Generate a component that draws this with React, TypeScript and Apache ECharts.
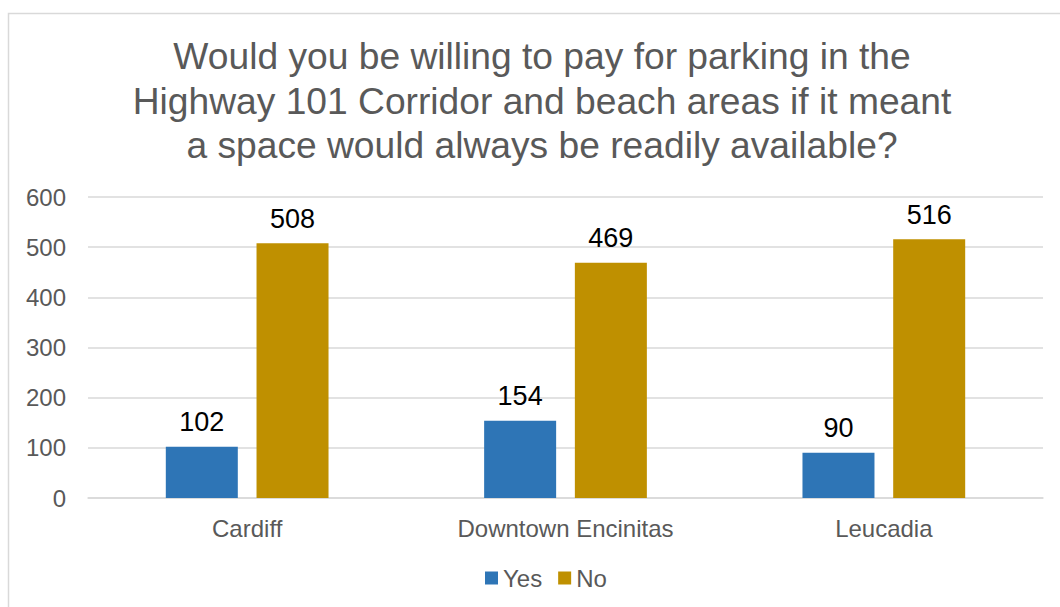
import React, { useEffect, useRef } from "react";
import * as echarts from "echarts";

const categories = ["Cardiff", "Downtown Encinitas", "Leucadia"];
const yesValues = [102, 154, 90];
const noValues = [508, 469, 516];
const titleText =
  "Would you be willing to pay for parking in the\nHighway 101 Corridor and beach areas if it meant\na space would always be readily available?";

export default function App() {
  const ref = useRef<HTMLDivElement>(null);
  useEffect(() => {
    if (!ref.current) return;
    const chart = echarts.init(ref.current, null, { renderer: "svg" });
    const font = "'Liberation Sans', Arial, sans-serif";
    chart.setOption({
      animation: false,
      backgroundColor: "#ffffff",
      textStyle: { fontFamily: font },
      title: {
        text: titleText,
        left: 537,
        top: 29,
        textAlign: "center",
        textStyle: {
          fontFamily: font,
          fontSize: 37.2,
          fontWeight: "normal",
          color: "#595959",
          lineHeight: 44.5,
        },
      },
      graphic: [
        {
          type: "rect",
          shape: { x: 8.5, y: 13.5, width: 1100, height: 700 },
          style: { fill: "none", stroke: "#d9d9d9", lineWidth: 1.5 },
          silent: true,
        },
      ],
      legend: {
        data: ["Yes", "No"],
        top: 561,
        left: 480,
        itemWidth: 13,
        itemHeight: 13,
        itemGap: 16,
        icon: "rect",
        textStyle: { fontFamily: font, fontSize: 24, color: "#595959" },
      },
      grid: { left: 88, right: 17, top: 197, bottom: 109, containLabel: false },
      xAxis: {
        type: "category",
        data: categories,
        axisLine: { lineStyle: { color: "#d9d9d9", width: 1.5 } },
        axisTick: { show: false },
        axisLabel: { fontFamily: font, fontSize: 24, color: "#595959", margin: 18 },
      },
      yAxis: {
        type: "value",
        min: 0,
        max: 600,
        interval: 100,
        axisLine: { show: false },
        axisTick: { show: false },
        splitLine: { lineStyle: { color: "#d9d9d9", width: 1.5 } },
        axisLabel: { fontFamily: font, fontSize: 24, color: "#595959", margin: 22 },
      },
      series: [
        {
          name: "Yes",
          type: "bar",
          data: yesValues,
          barWidth: 72,
          barGap: "26%",
          itemStyle: { color: "#2e75b6" },
          label: {
            show: true,
            position: "top",
            distance: 11,
            fontFamily: font,
            fontSize: 27,
            color: "#000000",
          },
        },
        {
          name: "No",
          type: "bar",
          data: noValues,
          barWidth: 72,
          barGap: "26%",
          itemStyle: { color: "#bf9000" },
          label: {
            show: true,
            position: "top",
            distance: 11,
            fontFamily: font,
            fontSize: 27,
            color: "#000000",
          },
        },
      ],
    });
    return () => chart.dispose();
  }, []);
  return (
    <div
      ref={ref}
      style={{ position: "fixed", left: 0, top: 0, width: 1060, height: 607 }}
    />
  );
}
